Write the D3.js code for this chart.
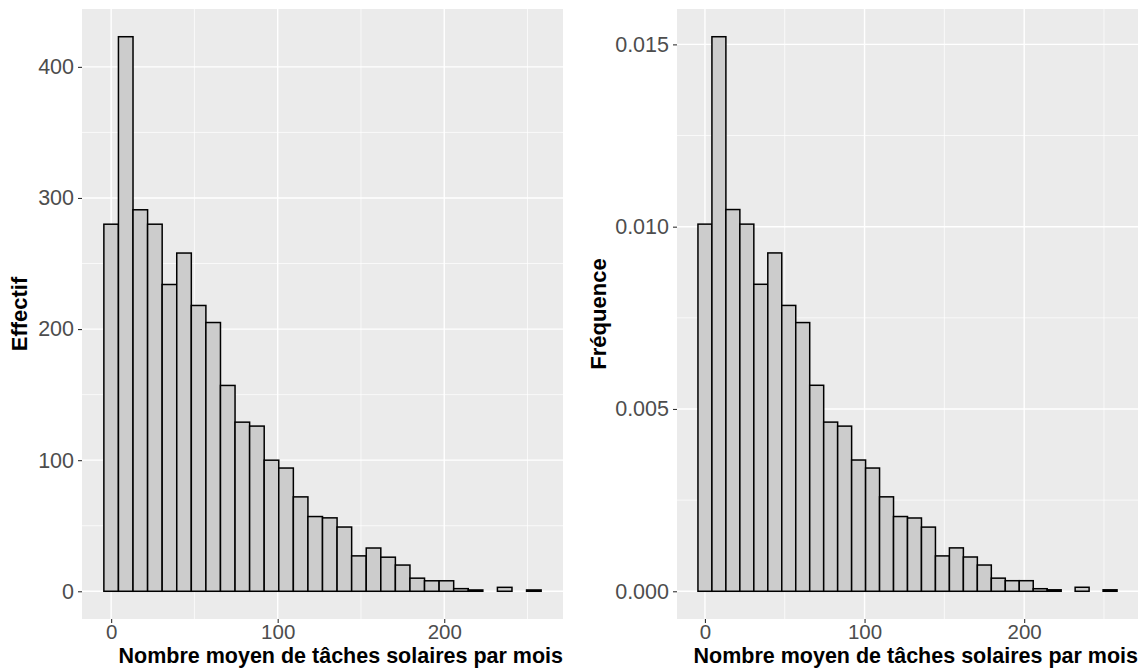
<!DOCTYPE html>
<html>
<head>
<meta charset="utf-8">
<script src="https://cdn.jsdelivr.net/npm/d3@7"></script>
<style>
  body { margin: 0; background: #fff; }
  text { font-family: "Liberation Sans", Arial, sans-serif; }
</style>
</head>
<body>
<div id="chart"></div>
<script>
// histogram of monthly sunspot means, 30 bins
const binWidth = 8.752;
const binStart = -4.376;
const counts = [280, 423, 291, 280, 234, 258, 218, 205, 157, 129, 126, 100, 94, 72, 57, 56, 49, 27, 33, 26, 20, 10, 8, 8, 2, 1, 0, 3, 0, 1];
const densities = [0.01007, 0.01521, 0.01047, 0.01007, 0.00842, 0.00928, 0.00784, 0.00737, 0.00565, 0.00464, 0.00453, 0.00360, 0.00338, 0.00259, 0.00205, 0.00201, 0.00176, 0.00097, 0.00119, 0.00094, 0.00072, 0.00036, 0.00029, 0.00029, 0.00007, 0.00004, 0, 0.00011, 0, 0.00004];
const xTicks = [0, 100, 200];
const xMinor = [50, 150, 250];
const countTicks = [0, 100, 200, 300, 400];
const countMinor = [50, 150, 250, 350];
const densTicks = [0, 0.005, 0.010, 0.015];
const densMinor = [0.0025, 0.0075, 0.0125];
const xTitle = "Nombre moyen de tâches solaires par mois";

const width = 1143, height = 668;
const svg = d3.select("#chart").append("svg")
  .attr("width", width)
  .attr("height", height);

function panel(opts) {
  const x0 = binStart, x1 = binStart + binWidth * opts.values.length;
  const xpad = (x1 - x0) * 0.05;
  const x = d3.scaleLinear()
    .domain([x0 - xpad, x1 + xpad])
    .range([opts.left, opts.right]);
  const ymax = d3.max(opts.values);
  const y = d3.scaleLinear()
    .domain([-ymax * 0.05, ymax * 1.05])
    .range([opts.bottom, opts.top]);

  const g = svg.append("g");

  g.append("rect")
    .attr("x", opts.left).attr("y", opts.top)
    .attr("width", opts.right - opts.left)
    .attr("height", opts.bottom - opts.top)
    .attr("fill", "#ebebeb");

  // minor grid
  g.selectAll(".ymin").data(opts.minor).enter().append("line")
    .attr("x1", opts.left).attr("x2", opts.right)
    .attr("y1", d => y(d)).attr("y2", d => y(d))
    .attr("stroke", "#fff").attr("stroke-width", 0.7);
  g.selectAll(".xmin").data(xMinor).enter().append("line")
    .attr("y1", opts.top).attr("y2", opts.bottom)
    .attr("x1", d => x(d)).attr("x2", d => x(d))
    .attr("stroke", "#fff").attr("stroke-width", 0.7);
  // major grid
  g.selectAll(".ymaj").data(opts.ticks).enter().append("line")
    .attr("x1", opts.left).attr("x2", opts.right)
    .attr("y1", d => y(d)).attr("y2", d => y(d))
    .attr("stroke", "#fff").attr("stroke-width", 1.4);
  g.selectAll(".xmaj").data(xTicks).enter().append("line")
    .attr("y1", opts.top).attr("y2", opts.bottom)
    .attr("x1", d => x(d)).attr("x2", d => x(d))
    .attr("stroke", "#fff").attr("stroke-width", 1.4);

  // bars
  g.selectAll(".bar").data(opts.values).enter().append("rect")
    .attr("x", (d, i) => x(binStart + i * binWidth))
    .attr("width", x(binWidth) - x(0))
    .attr("y", d => y(d))
    .attr("height", d => y(0) - y(d))
    .attr("fill", "#cccccc")
    .attr("stroke", "#000")
    .attr("stroke-width", 1.5);

  // y axis
  const ya = g.append("g").attr("transform", `translate(${opts.left},0)`)
    .call(d3.axisLeft(y).tickValues(opts.ticks).tickSize(4).tickPadding(4)
      .tickFormat(opts.fmt));
  ya.select(".domain").remove();
  ya.selectAll(".tick line").attr("stroke", "#333").attr("stroke-width", 1.1);
  ya.selectAll(".tick text").attr("fill", "#4d4d4d")
    .style("font-size", "21.5px").style("font-family", "Liberation Sans, Arial, sans-serif");

  // x axis
  const xa = g.append("g").attr("transform", `translate(0,${opts.bottom})`)
    .call(d3.axisBottom(x).tickValues(xTicks).tickSize(4).tickPadding(1)
      .tickFormat(d3.format("d")));
  xa.select(".domain").remove();
  xa.selectAll(".tick line").attr("stroke", "#333").attr("stroke-width", 1.1);
  xa.selectAll(".tick text").attr("fill", "#4d4d4d")
    .style("font-size", "20.5px").style("font-family", "Liberation Sans, Arial, sans-serif");

  // titles
  g.append("text")
    .attr("x", opts.right)
    .attr("y", 663)
    .attr("text-anchor", "end")
    .style("font-size", "21.5px")
    .style("font-weight", "bold")
    .text(xTitle);

  g.append("text")
    .attr("transform", `translate(${opts.ytitleX},${(opts.top + opts.bottom) / 2}) rotate(-90)`)
    .attr("text-anchor", "middle")
    .style("font-size", "22px")
    .style("font-weight", "bold")
    .text(opts.ylabel);
}

panel({
  values: counts, ticks: countTicks, minor: countMinor,
  left: 82, right: 563, top: 9, bottom: 619,
  fmt: d3.format("d"), ylabel: "Effectif", ytitleX: 27
});

panel({
  values: densities, ticks: densTicks, minor: densMinor,
  left: 677, right: 1138, top: 9, bottom: 619,
  fmt: d3.format(".3f"), ylabel: "Fréquence", ytitleX: 606
});
</script>
</body>
</html>
